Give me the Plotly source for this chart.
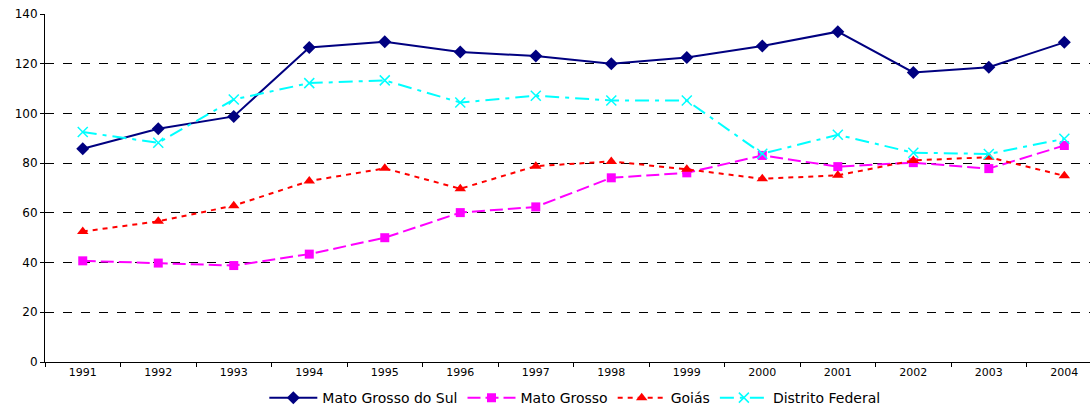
import plotly.graph_objects as go

years = ["1991", "1992", "1993", "1994", "1995", "1996", "1997",
         "1998", "1999", "2000", "2001", "2002", "2003", "2004"]

mato_grosso_do_sul = [85.8, 93.8, 98.8, 126.5, 128.8, 124.7, 123.1,
                      120.0, 122.5, 127.1, 132.9, 116.5, 118.6, 128.6]
mato_grosso = [40.7, 39.8, 38.8, 43.4, 50.0, 60.1, 62.4,
               74.1, 76.1, 83.1, 78.6, 80.2, 77.8, 87.1]
goias = [52.5, 56.6, 62.9, 72.8, 77.9, 69.7, 78.8,
         80.7, 77.5, 73.7, 75.1, 81.1, 82.4, 74.9]
distrito_federal = [92.5, 88.2, 105.6, 112.2, 113.3, 104.4, 107.1,
                    105.2, 105.2, 83.8, 91.4, 84.2, 83.7, 89.8]

y_ticks = [0, 20, 40, 60, 80, 100, 120, 140]

fig = go.Figure()
fig.add_trace(go.Scatter(
    x=years, y=mato_grosso_do_sul, name="Mato Grosso do Sul", mode="lines+markers",
    line=dict(color="#000080", width=2),
    marker=dict(symbol="diamond", size=10, color="#000080")))
fig.add_trace(go.Scatter(
    x=years, y=mato_grosso, name="Mato Grosso", mode="lines+markers",
    line=dict(color="#FF00FF", width=2, dash="13px,5px"),
    marker=dict(symbol="square", size=9, color="#FF00FF")))
fig.add_trace(go.Scatter(
    x=years, y=goias, name="Goiás", mode="lines+markers",
    line=dict(color="#FF0000", width=2, dash="5px,5px"),
    marker=dict(symbol="triangle-up", size=10, color="#FF0000")))
fig.add_trace(go.Scatter(
    x=years, y=distrito_federal, name="Distrito Federal", mode="lines+markers",
    line=dict(color="#00FFFF", width=2, dash="14px,6px,4px,6px"),
    marker=dict(symbol="x-thin", size=10, color="#00FFFF",
                line=dict(color="#00FFFF", width=1.5))))

fig.update_layout(
    width=1091, height=407,
    margin=dict(l=45, r=1, t=14, b=45, autoexpand=False),
    paper_bgcolor="white", plot_bgcolor="white",
    font=dict(family="DejaVu Sans, sans-serif", size=11, color="#000000"),
    showlegend=True,
    legend=dict(orientation="h", x=0.507, xanchor="center",
                yref="container", y=0.022, yanchor="middle",
                font=dict(size=14), itemwidth=48, tracegroupgap=0),
    xaxis=dict(type="category", range=[-0.5, 13.34], showgrid=False,
               showline=True, linecolor="#000000", linewidth=1,
               ticks="outside", tickson="boundaries", ticklen=4,
               tickcolor="#000000", tickfont=dict(size=11)),
    yaxis=dict(range=[0, 140], tickvals=y_ticks, showgrid=True,
               gridcolor="#000000", griddash="dash", gridwidth=1,
               showline=True, linecolor="#000000", linewidth=1,
               ticks="outside", ticklen=4, tickcolor="#000000",
               zeroline=False, tickfont=dict(size=12)),
)

fig.write_html("out.html")
